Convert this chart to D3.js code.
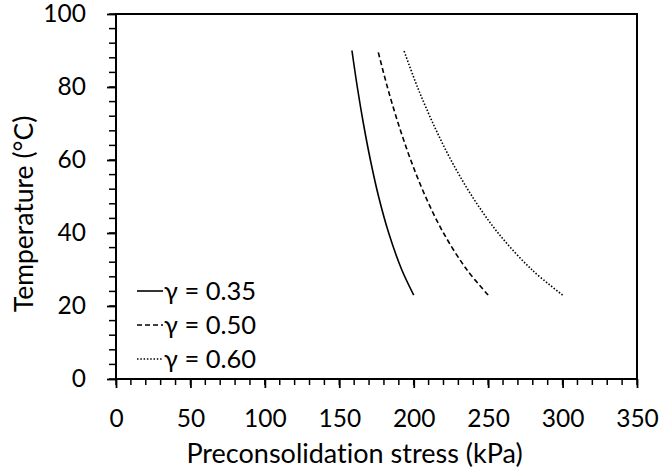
<!DOCTYPE html>
<html>
<head>
<meta charset="utf-8">
<script src="https://cdn.jsdelivr.net/npm/d3@7/dist/d3.min.js"></script>
<style>
  html, body { margin: 0; padding: 0; background: #fff; }
  text { font-family: Lato, "Open Sans", sans-serif; fill: #000; font-variant-ligatures: none; }
</style>
</head>
<body>
<svg id="chart" width="661" height="472"></svg>
<script>
// ---- data ----
const temperatures = [23, 30, 40, 50, 60, 70, 80, 90];
const stressG035 = [200, 191.9, 183.2, 176.4, 170.9, 166.2, 162.1, 158.5];
const stressG050 = [250, 235.6, 220.0, 207.9, 198.0, 189.6, 182.3, 175.9];
const stressG060 = [300, 279.2, 256.7, 239.3, 225.0, 213.0, 202.5, 193.4];
const seriesNames = ["γ = 0.35", "γ = 0.50", "γ = 0.60"];
const xTicks = [0, 50, 100, 150, 200, 250, 300, 350];
const yTicks = [0, 20, 40, 60, 80, 100];
const xTitle = "Preconsolidation stress (kPa)";
const yTitle = "Temperature (°C)";

// ---- layout ----
const svg = d3.select("#chart");
const pLeft = 116, pRight = 637, pTop = 14, pBottom = 379;
const x = d3.scaleLinear().domain([0, 350]).range([pLeft, pRight]);
const y = d3.scaleLinear().domain([0, 100]).range([pBottom, pTop]);
const dashes = [null, "5,3", "1.5,1.8"];
const seriesValues = [stressG035, stressG050, stressG060];

// minor ticks
const xMinor = d3.range(0, 351, 10);
const yMinor = d3.range(0, 101, 4);
const g = svg.append("g");
g.selectAll("line.xminor").data(xMinor).join("line")
  .attr("x1", d => x(d)).attr("x2", d => x(d))
  .attr("y1", pBottom).attr("y2", pBottom + 6)
  .attr("stroke", "#000").attr("stroke-width", 1.5);
g.selectAll("line.yminor").data(yMinor).join("line")
  .attr("x1", pLeft - 7).attr("x2", pLeft)
  .attr("y1", d => y(d)).attr("y2", d => y(d))
  .attr("stroke", "#000").attr("stroke-width", 1.5);

// major axes
const xAxis = d3.axisBottom(x).tickValues(xTicks).tickSize(9).tickPadding(22).tickFormat(d3.format("d"));
const yAxis = d3.axisLeft(y).tickValues(yTicks).tickSize(9).tickPadding(21).tickFormat(d3.format("d"));
const gx = svg.append("g").attr("transform", `translate(0,${pBottom})`).call(xAxis);
const gy = svg.append("g").attr("transform", `translate(${pLeft},0)`).call(yAxis);
[gx, gy].forEach(a => {
  a.select(".domain").remove();
  a.selectAll(".tick line").attr("stroke", "#000").attr("stroke-width", 1.8);
  a.selectAll(".tick text").style("font-size", "24.5px").style("font-family", "Lato, sans-serif").attr("fill", "#000");
});

// frame
svg.append("rect").attr("x", pLeft).attr("y", pTop)
  .attr("width", pRight - pLeft).attr("height", pBottom - pTop)
  .attr("fill", "none").attr("stroke", "#000").attr("stroke-width", 2);

// curves
const line = d3.line().x(d => x(d[0])).y(d => y(d[1])).curve(d3.curveCatmullRom);
seriesValues.forEach((vals, i) => {
  const pts = vals.map((v, j) => [v, temperatures[j]]);
  svg.append("path").datum(pts).attr("d", line)
    .attr("fill", "none").attr("stroke", "#000").attr("stroke-width", 1.6)
    .attr("stroke-dasharray", dashes[i]);
});

// legend
const legY = [291, 325, 359];
seriesNames.forEach((name, i) => {
  svg.append("line").attr("x1", 137).attr("x2", 163)
    .attr("y1", legY[i]).attr("y2", legY[i])
    .attr("stroke", "#000").attr("stroke-width", 1.6)
    .attr("stroke-dasharray", dashes[i]);
  svg.append("text").attr("x", 164).attr("y", legY[i] + 8.5)
    .style("font-size", "25.5px").text(name);
});

// titles
svg.append("text").attr("x", (pLeft + pRight) / 2 - 22).attr("y", 463)
  .attr("text-anchor", "middle").style("font-size", "27px").text(xTitle);
svg.append("text").attr("transform", `translate(33,214) rotate(-90)`)
  .attr("text-anchor", "middle").style("font-size", "26.5px").text(yTitle);
</script>
</body>
</html>
